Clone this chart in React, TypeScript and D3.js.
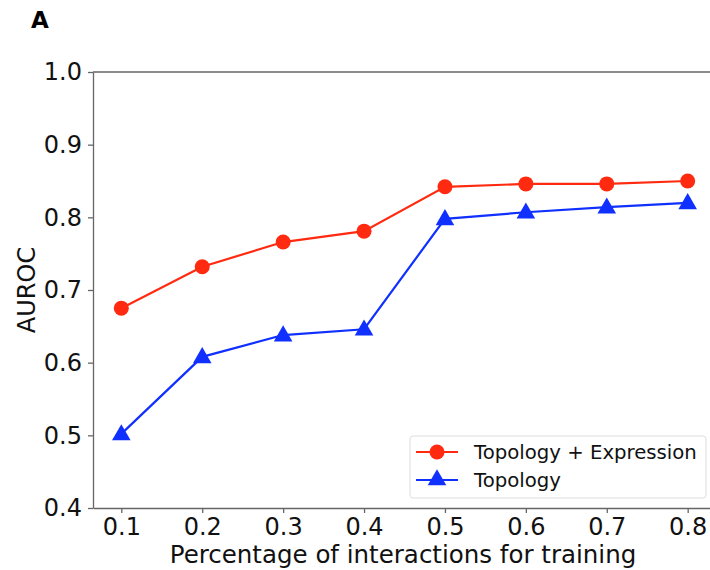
import React, { useEffect, useRef } from 'react';
import * as d3 from 'd3';

const fractions = [0.1, 0.2, 0.3, 0.4, 0.5, 0.6, 0.7, 0.8];
const topoExpr = [0.675, 0.732, 0.766, 0.781, 0.842, 0.846, 0.846, 0.85];
const topoOnly = [0.502, 0.608, 0.638, 0.646, 0.798, 0.807, 0.814, 0.82];
const yTicks = [0.4, 0.5, 0.6, 0.7, 0.8, 0.9, 1.0];
const seriesNames = ['Topology + Expression', 'Topology'];

export default function App() {
  const ref = useRef<SVGSVGElement>(null);

  useEffect(() => {
    const svg = d3.select(ref.current);
    svg.selectAll('*').remove();
    const font = 'DejaVu Sans, sans-serif';
    const left = 93, top = 72, bottom = 508, right = 716;

    const x = d3.scaleLinear().domain([0.065, 0.835]).range([left, right]);
    const y = d3.scaleLinear().domain([0.4, 1.0]).range([bottom, top]);

    svg.append('text')
      .attr('x', 31).attr('y', 28)
      .attr('font-family', font).attr('font-weight', 'bold').attr('font-size', 23)
      .text('A');

    const xAxis = svg.append('g')
      .attr('transform', `translate(0,${bottom})`)
      .call(d3.axisBottom(x).tickValues(fractions).tickFormat(d3.format('.1f')).tickSize(5).tickPadding(5).tickSizeOuter(0));
    const yAxis = svg.append('g')
      .attr('transform', `translate(${left},0)`)
      .call(d3.axisLeft(y).tickValues(yTicks).tickFormat(d3.format('.1f')).tickSize(5).tickPadding(6).tickSizeOuter(0));
    [xAxis, yAxis].forEach(g => {
      g.selectAll('path,line').attr('stroke', '#666').attr('stroke-width', 1.3);
      g.selectAll('text').attr('font-family', font).attr('font-size', 24).attr('fill', '#111');
    });

    // top spine
    svg.append('line')
      .attr('x1', left).attr('x2', right).attr('y1', top).attr('y2', top)
      .attr('stroke', '#666').attr('stroke-width', 1.3);

    svg.append('text')
      .attr('x', 403).attr('y', 563)
      .attr('text-anchor', 'middle')
      .attr('font-family', font).attr('font-size', 24.5).attr('fill', '#111')
      .text('Percentage of interactions for training');

    svg.append('text')
      .attr('transform', `translate(35,${(top + bottom) / 2}) rotate(-90)`)
      .attr('text-anchor', 'middle')
      .attr('font-family', font).attr('font-size', 24).attr('fill', '#111')
      .text('AUROC');

    const line = d3.line<number>()
      .x((_, i) => x(fractions[i]))
      .y(d => y(d));

    const red = '#ff2a0f';
    const blue = '#1030ff';
    const tri = d3.symbol().type(d3.symbolTriangle).size(150);

    svg.append('path').attr('d', line(topoExpr)).attr('fill', 'none').attr('stroke', red).attr('stroke-width', 2.2);
    svg.selectAll('.c').data(topoExpr).enter().append('circle')
      .attr('cx', (_, i) => x(fractions[i])).attr('cy', d => y(d)).attr('r', 7.5).attr('fill', red);

    svg.append('path').attr('d', line(topoOnly)).attr('fill', 'none').attr('stroke', blue).attr('stroke-width', 2.2);
    svg.selectAll('.t').data(topoOnly).enter().append('path')
      .attr('d', tri)
      .attr('transform', (d, i) => `translate(${x(fractions[i])},${y(d) + 1})`)
      .attr('fill', blue);

    // legend
    const lg = svg.append('g');
    lg.append('rect')
      .attr('x', 410).attr('y', 436).attr('width', 296).attr('height', 62).attr('rx', 3)
      .attr('fill', 'white').attr('stroke', '#ddd');
    const items = [
      { name: seriesNames[0], color: red, y: 452, shape: 'circle' },
      { name: seriesNames[1], color: blue, y: 480, shape: 'tri' },
    ];
    items.forEach(it => {
      lg.append('line').attr('x1', 416).attr('x2', 458).attr('y1', it.y).attr('y2', it.y)
        .attr('stroke', it.color).attr('stroke-width', 2.2);
      if (it.shape === 'circle') {
        lg.append('circle').attr('cx', 437).attr('cy', it.y).attr('r', 7.5).attr('fill', it.color);
      } else {
        lg.append('path').attr('d', tri).attr('transform', `translate(437,${it.y})`).attr('fill', it.color);
      }
      lg.append('text').attr('x', 474).attr('y', it.y + 7)
        .attr('font-family', font).attr('font-size', 19.7).attr('fill', '#111')
        .text(it.name);
    });
  }, []);

  return (
    <svg ref={ref} width={710} height={570} style={{ position: 'absolute', left: 0, top: 0, background: 'white' }} />
  );
}
